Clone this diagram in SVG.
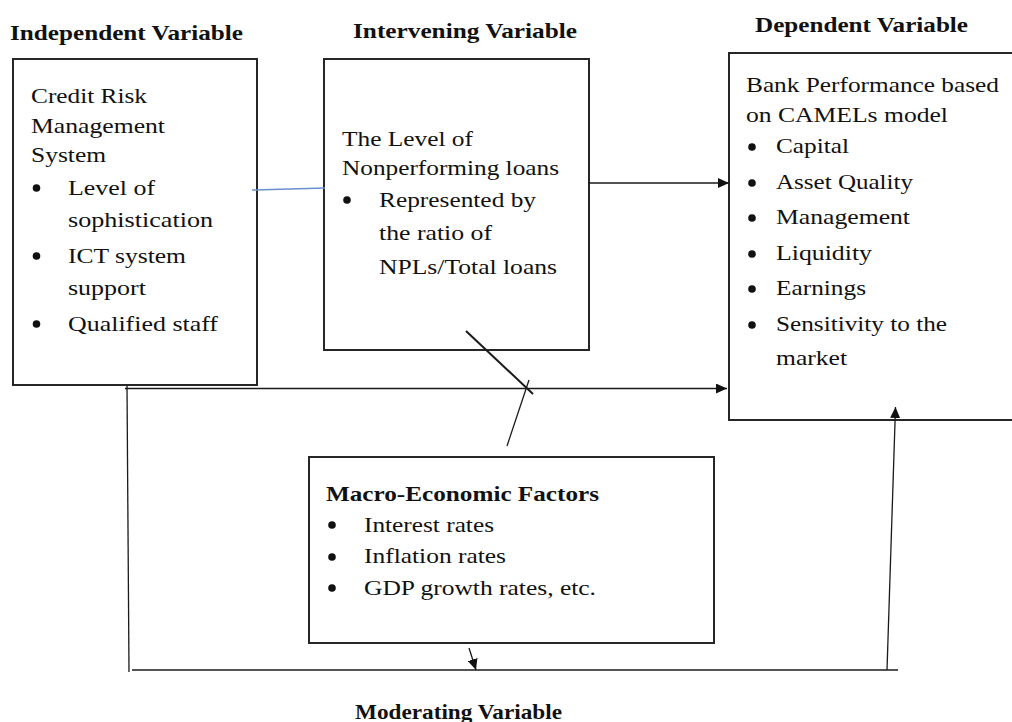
<svg xmlns="http://www.w3.org/2000/svg" width="1012" height="722" viewBox="0 0 1012 722">
<style>
  .box { fill: #fff; stroke: #262626; stroke-width: 2; }
  .t { font-family: "Liberation Serif", "Times New Roman", serif; font-size: 21px; fill: #111; }
  .h { font-family: "Liberation Serif", "Times New Roman", serif; font-size: 21px; font-weight: bold; fill: #111; }
  .b { fill: #111; }
  .ln { stroke: #1a1a1a; stroke-width: 1.3; fill: none; }
</style>
<defs>
  <marker id="arr" markerUnits="userSpaceOnUse" markerWidth="12" markerHeight="10" refX="11" refY="5" orient="auto">
    <path d="M0,0 L11,5 L0,10 Z" fill="#111"/>
  </marker>
</defs>
<rect width="1012" height="722" fill="#fff"/>

<text class="h" x="10" y="40" textLength="233" lengthAdjust="spacingAndGlyphs">Independent Variable</text>
<text class="h" x="353" y="37.5" textLength="224" lengthAdjust="spacingAndGlyphs">Intervening Variable</text>
<text class="h" x="755" y="31.5" textLength="213" lengthAdjust="spacingAndGlyphs">Dependent Variable</text>
<text class="h" x="355" y="719" textLength="207" lengthAdjust="spacingAndGlyphs">Moderating Variable</text>

<g id="independent">
  <rect class="box" x="13" y="59" width="244" height="326"/>
  <text class="t" x="31" y="103" textLength="116" lengthAdjust="spacingAndGlyphs">Credit Risk</text>
  <text class="t" x="31" y="133" textLength="134" lengthAdjust="spacingAndGlyphs">Management</text>
  <text class="t" x="31" y="162" textLength="75" lengthAdjust="spacingAndGlyphs">System</text>
  <circle class="b" cx="36.5" cy="188" r="3.8"/>
  <text class="t" x="68" y="195" textLength="87" lengthAdjust="spacingAndGlyphs">Level of</text>
  <text class="t" x="68" y="227" textLength="145" lengthAdjust="spacingAndGlyphs">sophistication</text>
  <circle class="b" cx="36.5" cy="256" r="3.8"/>
  <text class="t" x="68" y="263" textLength="118" lengthAdjust="spacingAndGlyphs">ICT system</text>
  <text class="t" x="68" y="295" textLength="78" lengthAdjust="spacingAndGlyphs">support</text>
  <circle class="b" cx="36.5" cy="324" r="3.8"/>
  <text class="t" x="68" y="331" textLength="150" lengthAdjust="spacingAndGlyphs">Qualified staff</text>
</g>

<g id="intervening">
  <rect class="box" x="324" y="59" width="265" height="291"/>
  <text class="t" x="342" y="146" textLength="131" lengthAdjust="spacingAndGlyphs">The Level of</text>
  <text class="t" x="342" y="175" textLength="217" lengthAdjust="spacingAndGlyphs">Nonperforming loans</text>
  <circle class="b" cx="347" cy="200" r="3.8"/>
  <text class="t" x="379" y="207" textLength="157" lengthAdjust="spacingAndGlyphs">Represented by</text>
  <text class="t" x="379" y="240" textLength="113" lengthAdjust="spacingAndGlyphs">the ratio of</text>
  <text class="t" x="379" y="274" textLength="178" lengthAdjust="spacingAndGlyphs">NPLs/Total loans</text>
</g>

<g id="dependent">
  <rect class="box" x="729" y="53" width="290" height="367"/>
  <text class="t" x="746" y="92" textLength="253" lengthAdjust="spacingAndGlyphs">Bank Performance based</text>
  <text class="t" x="746" y="122" textLength="202" lengthAdjust="spacingAndGlyphs">on CAMELs model</text>
  <circle class="b" cx="752" cy="147" r="3.8"/>
  <text class="t" x="776" y="153" textLength="73" lengthAdjust="spacingAndGlyphs">Capital</text>
  <circle class="b" cx="752" cy="183" r="3.8"/>
  <text class="t" x="776" y="189" textLength="137" lengthAdjust="spacingAndGlyphs">Asset Quality</text>
  <circle class="b" cx="752" cy="218" r="3.8"/>
  <text class="t" x="776" y="224" textLength="134" lengthAdjust="spacingAndGlyphs">Management</text>
  <circle class="b" cx="752" cy="254" r="3.8"/>
  <text class="t" x="776" y="260" textLength="96" lengthAdjust="spacingAndGlyphs">Liquidity</text>
  <circle class="b" cx="752" cy="289" r="3.8"/>
  <text class="t" x="776" y="295" textLength="90" lengthAdjust="spacingAndGlyphs">Earnings</text>
  <circle class="b" cx="752" cy="325" r="3.8"/>
  <text class="t" x="776" y="331" textLength="171" lengthAdjust="spacingAndGlyphs">Sensitivity to the</text>
  <text class="t" x="776" y="365" textLength="71" lengthAdjust="spacingAndGlyphs">market</text>
</g>

<g id="moderating">
  <rect class="box" x="309" y="457" width="405" height="186"/>
  <text class="h" x="326" y="501" textLength="273" lengthAdjust="spacingAndGlyphs">Macro-Economic Factors</text>
  <circle class="b" cx="332" cy="525" r="3.8"/>
  <text class="t" x="364" y="532" textLength="130" lengthAdjust="spacingAndGlyphs">Interest rates</text>
  <circle class="b" cx="332" cy="557" r="3.8"/>
  <text class="t" x="364" y="563" textLength="142" lengthAdjust="spacingAndGlyphs">Inflation rates</text>
  <circle class="b" cx="332" cy="588" r="3.8"/>
  <text class="t" x="364" y="595" textLength="232" lengthAdjust="spacingAndGlyphs">GDP growth rates, etc.</text>
</g>

<g id="connectors">
  <line x1="252" y1="190" x2="325" y2="188" stroke="#6a8fd0" stroke-width="1.5"/>
  <line class="ln" x1="589" y1="183" x2="729" y2="183" marker-end="url(#arr)"/>
  <line class="ln" x1="125" y1="388.5" x2="727" y2="388.5" marker-end="url(#arr)"/>
  <line class="ln" x1="127" y1="385" x2="129" y2="672"/>
  <line class="ln" x1="132" y1="670" x2="898" y2="670"/>
  <line class="ln" x1="887" y1="670" x2="895.5" y2="407" marker-end="url(#arr)"/>
  <line class="ln" x1="469" y1="648" x2="476" y2="670" marker-end="url(#arr)"/>
  <line x1="466" y1="331" x2="533" y2="394" stroke="#1a1a1a" stroke-width="2"/>
  <line class="ln" x1="507" y1="446" x2="529" y2="380"/>
</g>
</svg>
